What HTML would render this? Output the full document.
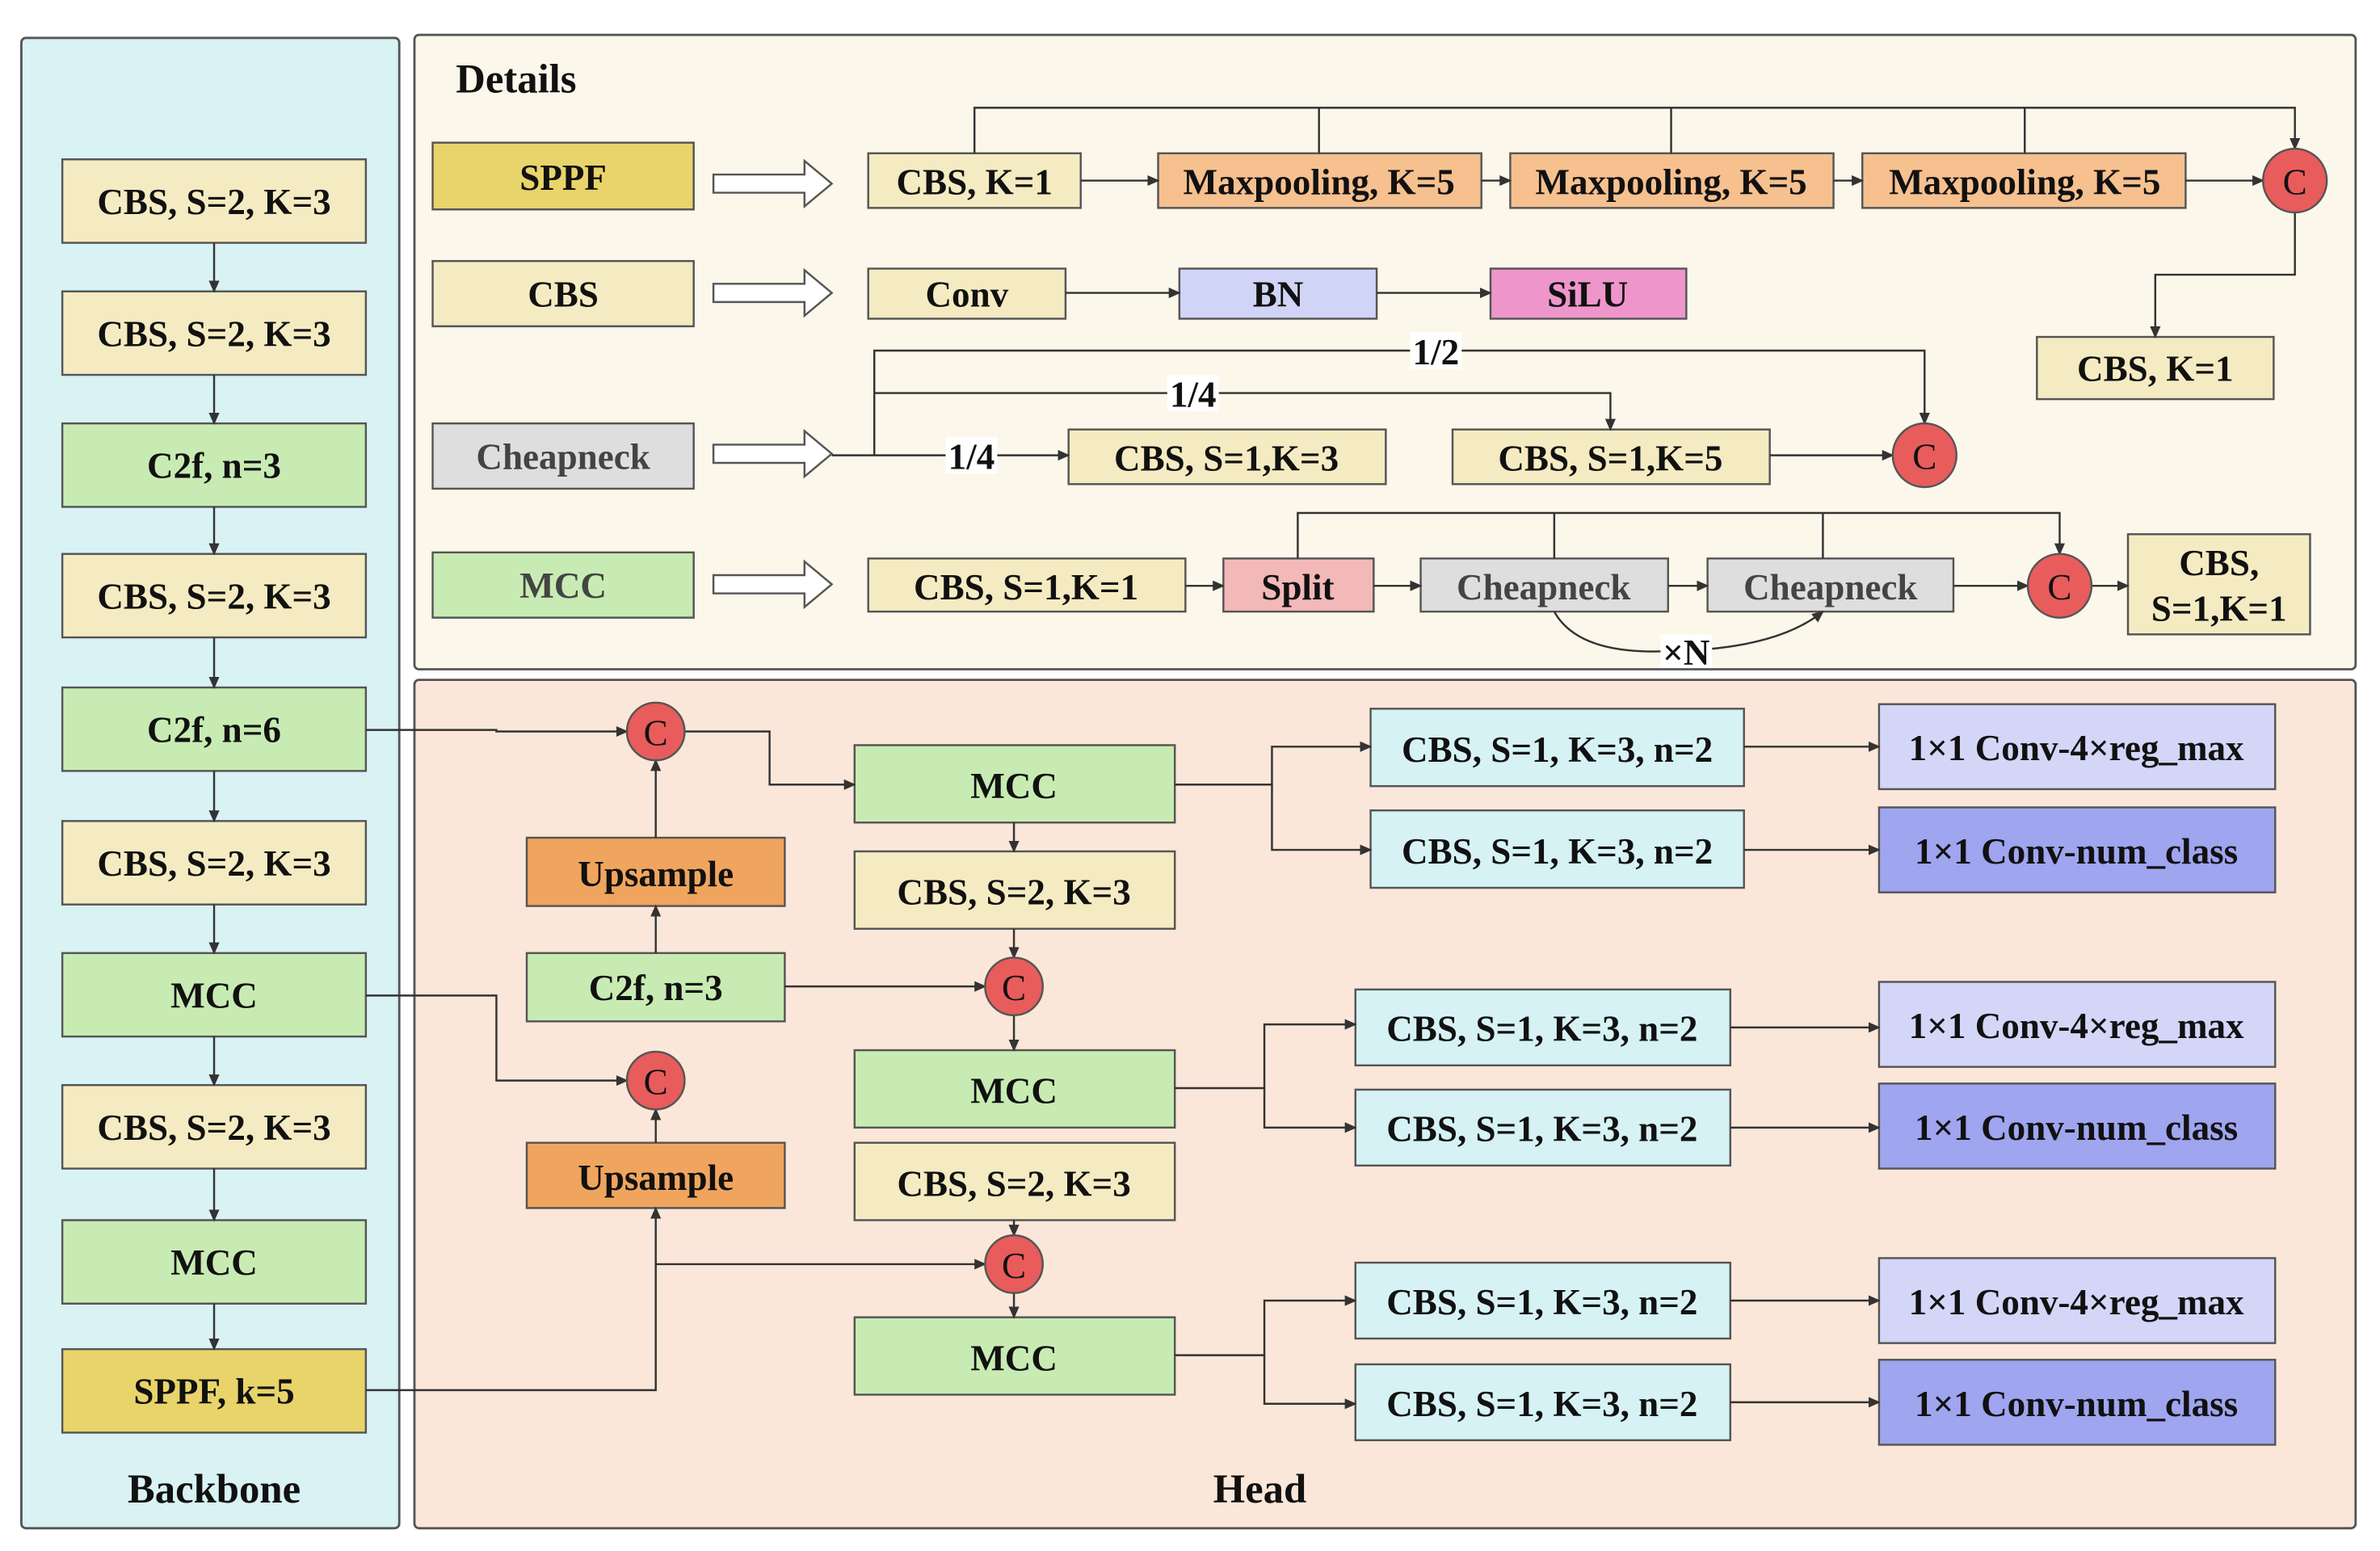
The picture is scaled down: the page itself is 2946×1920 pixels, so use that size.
<!DOCTYPE html>
<html><head><meta charset="utf-8"><style>
html,body{margin:0;padding:0;background:#fff;}
svg{display:block}
svg text{font-family:"Liberation Serif","DejaVu Serif","Times New Roman",serif;font-weight:bold;fill:#111;text-anchor:middle;dominant-baseline:central;}
</style></head><body>
<svg width="2946" height="1920" viewBox="0 0 1568 1022" xmlns="http://www.w3.org/2000/svg" font-family="Liberation Serif, DejaVu Serif, serif">
<defs>
<marker id="a" markerWidth="8" markerHeight="8" refX="7" refY="4" orient="auto" markerUnits="userSpaceOnUse"><path d="M0,0.5 L8,4 L0,7.5z" fill="#333"/></marker>
</defs>
<g stroke="#555" stroke-width="1.5">
<rect x="14" y="25" width="249" height="982" rx="3" fill="#d9f2f4"/>
<rect x="273" y="23" width="1279" height="418" rx="3" fill="#fbf7ea"/>
<rect x="273" y="448" width="1279" height="559" rx="3" fill="#fbe7d9"/>
</g>
<text x="340" y="52" font-size="27">Details</text>
<text x="141" y="981" font-size="27">Backbone</text>
<text x="830" y="981" font-size="27">Head</text>

<g stroke="#555" stroke-width="1.3">
<rect x="41" y="105" width="200" height="55" fill="#f5ebc2"/>
<rect x="41" y="192" width="200" height="55" fill="#f5ebc2"/>
<rect x="41" y="279" width="200" height="55" fill="#c8ebb3"/>
<rect x="41" y="365" width="200" height="55" fill="#f5ebc2"/>
<rect x="41" y="453" width="200" height="55" fill="#c8ebb3"/>
<rect x="41" y="541" width="200" height="55" fill="#f5ebc2"/>
<rect x="41" y="628" width="200" height="55" fill="#c8ebb3"/>
<rect x="41" y="715" width="200" height="55" fill="#f5ebc2"/>
<rect x="41" y="804" width="200" height="55" fill="#c8ebb3"/>
<rect x="41" y="889" width="200" height="55" fill="#e8d46a"/>
<rect x="285" y="94" width="172" height="44" fill="#e8d46a"/>
<rect x="285" y="172" width="172" height="43" fill="#f5ebc2"/>
<rect x="285" y="279" width="172" height="43" fill="#dedede"/>
<rect x="285" y="364" width="172" height="43" fill="#c8ebb3"/>
<rect x="572" y="101" width="140" height="36" fill="#f5ebc2"/>
<rect x="763" y="101" width="213" height="36" fill="#f6c08f"/>
<rect x="995" y="101" width="213" height="36" fill="#f6c08f"/>
<rect x="1227" y="101" width="213" height="36" fill="#f6c08f"/>
<rect x="1342" y="222" width="156" height="41" fill="#f5ebc2"/>
<rect x="572" y="177" width="130" height="33" fill="#f5ebc2"/>
<rect x="777" y="177" width="130" height="33" fill="#d0d4f6"/>
<rect x="982" y="177" width="129" height="33" fill="#ee96cc"/>
<rect x="704" y="283" width="209" height="36" fill="#f5ebc2"/>
<rect x="957" y="283" width="209" height="36" fill="#f5ebc2"/>
<rect x="572" y="368" width="209" height="35" fill="#f5ebc2"/>
<rect x="806" y="368" width="99" height="35" fill="#f3b8b8"/>
<rect x="936" y="368" width="163" height="35" fill="#dedede"/>
<rect x="1125" y="368" width="162" height="35" fill="#dedede"/>
<rect x="1402" y="352" width="120" height="66" fill="#f5ebc2"/>
<rect x="347" y="552" width="170" height="45" fill="#f0a55e"/>
<rect x="347" y="628" width="170" height="45" fill="#c8ebb3"/>
<rect x="347" y="753" width="170" height="43" fill="#f0a55e"/>
<rect x="563" y="491" width="211" height="51" fill="#c8ebb3"/>
<rect x="563" y="561" width="211" height="51" fill="#f5ebc2"/>
<rect x="563" y="692" width="211" height="51" fill="#c8ebb3"/>
<rect x="563" y="753" width="211" height="51" fill="#f5ebc2"/>
<rect x="563" y="868" width="211" height="51" fill="#c8ebb3"/>
<rect x="903" y="467" width="246" height="51" fill="#d6f2f4"/>
<rect x="903" y="534" width="246" height="51" fill="#d6f2f4"/>
<rect x="893" y="652" width="247" height="50" fill="#d6f2f4"/>
<rect x="893" y="718" width="247" height="50" fill="#d6f2f4"/>
<rect x="893" y="832" width="247" height="50" fill="#d6f2f4"/>
<rect x="893" y="899" width="247" height="50" fill="#d6f2f4"/>
<rect x="1238" y="464" width="261" height="56" fill="#d3d6f7"/>
<rect x="1238" y="532" width="261" height="56" fill="#9fa5ee"/>
<rect x="1238" y="647" width="261" height="56" fill="#d3d6f7"/>
<rect x="1238" y="714" width="261" height="56" fill="#9fa5ee"/>
<rect x="1238" y="829" width="261" height="56" fill="#d3d6f7"/>
<rect x="1238" y="896" width="261" height="56" fill="#9fa5ee"/>
</g>

<g fill="#fff" stroke="#555" stroke-width="1.3">
<path d="M470,115 h60 v-9 l18,15 l-18,15 v-9 h-60z"/>
<path d="M470,187 h60 v-9 l18,15 l-18,15 v-9 h-60z"/>
<path d="M470,293 h60 v-9 l18,15 l-18,15 v-9 h-60z"/>
<path d="M470,379 h60 v-9 l18,15 l-18,15 v-9 h-60z"/>
</g>

<g stroke="#333" stroke-width="1.3" fill="none">
<path d="M869,71V101M1101,71V101M1334,71V101M1024,338V368M1201,338V368"/>
</g>
<g stroke="#333" stroke-width="1.3" fill="none" marker-end="url(#a)">
<path d="M141,160V192"/><path d="M141,247V279"/><path d="M141,334V365"/><path d="M141,420V453"/>
<path d="M141,508V541"/><path d="M141,596V628"/><path d="M141,683V715"/><path d="M141,770V804"/><path d="M141,859V889"/>
<path d="M712,119H763"/><path d="M976,119H995"/><path d="M1208,119H1227"/><path d="M1440,119H1491"/>
<path d="M642,101V71H1512V98"/>
<path d="M1512,140V181H1420V222"/>
<path d="M702,193H777"/><path d="M907,193H982"/>
<path d="M548,300H704"/>
<path d="M576,300V231H1268V279"/>
<path d="M576,259H1061V283"/>
<path d="M1166,300H1247"/>
<path d="M781,386H806"/><path d="M905,386H936"/><path d="M1099,386H1125"/><path d="M1287,386H1336"/><path d="M1378,386H1402"/>
<path d="M855,368V338H1357V365"/>
<path d="M1024,403 Q1040,432 1100,429 Q1170,428 1201,403"/>
<path d="M241,481H327V482H413"/>
<path d="M241,656H327V712H413"/>
<path d="M241,916H432V796"/>
<path d="M432,833H649"/>
<path d="M432,552V501"/><path d="M432,628V597"/><path d="M432,753V731"/>
<path d="M451,482H507V517H563"/>
<path d="M668,542V561"/><path d="M668,612V631"/><path d="M517,650H649"/><path d="M668,669V692"/>
<path d="M668,804V814"/><path d="M668,852V868"/>
<path d="M774,517H838V492H903"/><path d="M838,517V560H903"/>
<path d="M774,717H833V675H893"/><path d="M833,717V743H893"/>
<path d="M774,893H833V857H893"/><path d="M833,893V925H893"/>
<path d="M1149,492H1238"/><path d="M1149,560H1238"/>
<path d="M1140,677H1238"/><path d="M1140,743H1238"/>
<path d="M1140,857H1238"/><path d="M1140,924H1238"/>
</g>

<g fill="#e85c5c" stroke="#555" stroke-width="1.3">
<circle cx="1512" cy="119" r="21"/><circle cx="1268" cy="300" r="21"/><circle cx="1357" cy="386" r="21"/>
<circle cx="432" cy="482" r="19"/><circle cx="432" cy="712" r="19"/>
<circle cx="668" cy="650" r="19"/><circle cx="668" cy="833" r="19"/>
</g>
<g font-size="24">
<text x="1512" y="120" style="font-weight:normal">C</text><text x="1268" y="301" style="font-weight:normal">C</text><text x="1357" y="387" style="font-weight:normal">C</text>
<text x="432" y="483" style="font-weight:normal">C</text><text x="432" y="713" style="font-weight:normal">C</text>
<text x="668" y="651" style="font-weight:normal">C</text><text x="668" y="834" style="font-weight:normal">C</text>
</g>

<g fill="#fff"><rect x="929" y="219" width="34" height="24"/><rect x="769" y="247" width="34" height="24"/><rect x="623" y="288" width="34" height="24"/><rect x="1094" y="418" width="34" height="22"/></g>
<g font-size="24">
<text x="946" y="232">1/2</text><text x="786" y="260">1/4</text><text x="640" y="301">1/4</text><text x="1111" y="430">×N</text>

<text x="141" y="133">CBS, S=2, K=3</text><text x="141" y="220">CBS, S=2, K=3</text><text x="141" y="307">C2f, n=3</text>
<text x="141" y="393">CBS, S=2, K=3</text><text x="141" y="481">C2f, n=6</text><text x="141" y="569">CBS, S=2, K=3</text>
<text x="141" y="656">MCC</text><text x="141" y="743">CBS, S=2, K=3</text><text x="141" y="832">MCC</text><text x="141" y="917">SPPF, k=5</text>

<text x="371" y="117">SPPF</text><text x="371" y="194">CBS</text><text x="371" y="301" style="fill:#444">Cheapneck</text><text x="371" y="386" style="fill:#444">MCC</text>
<text x="642" y="120">CBS, K=1</text><text x="869" y="120">Maxpooling, K=5</text><text x="1101" y="120">Maxpooling, K=5</text><text x="1334" y="120">Maxpooling, K=5</text>
<text x="1420" y="243">CBS, K=1</text>
<text x="637" y="194">Conv</text><text x="842" y="194">BN</text><text x="1046" y="194">SiLU</text>
<text x="808" y="302">CBS, S=1,K=3</text><text x="1061" y="302">CBS, S=1,K=5</text>
<text x="676" y="387">CBS, S=1,K=1</text><text x="855" y="387">Split</text><text x="1017" y="387" style="fill:#444">Cheapneck</text><text x="1206" y="387" style="fill:#444">Cheapneck</text>
<text x="1462" y="371">CBS,</text><text x="1462" y="401">S=1,K=1</text>

<text x="432" y="576">Upsample</text><text x="432" y="651">C2f, n=3</text><text x="432" y="776">Upsample</text>
<text x="668" y="518">MCC</text><text x="668" y="588">CBS, S=2, K=3</text><text x="668" y="719">MCC</text><text x="668" y="780">CBS, S=2, K=3</text><text x="668" y="895">MCC</text>
<text x="1026" y="494">CBS, S=1, K=3, n=2</text><text x="1026" y="561">CBS, S=1, K=3, n=2</text>
<text x="1016" y="678">CBS, S=1, K=3, n=2</text><text x="1016" y="744">CBS, S=1, K=3, n=2</text>
<text x="1016" y="858">CBS, S=1, K=3, n=2</text><text x="1016" y="925">CBS, S=1, K=3, n=2</text>
<text x="1368" y="493">1×1 Conv-4×reg_max</text><text x="1368" y="561">1×1 Conv-num_class</text>
<text x="1368" y="676">1×1 Conv-4×reg_max</text><text x="1368" y="743">1×1 Conv-num_class</text>
<text x="1368" y="858">1×1 Conv-4×reg_max</text><text x="1368" y="925">1×1 Conv-num_class</text>
</g>
</svg>
</body></html>
